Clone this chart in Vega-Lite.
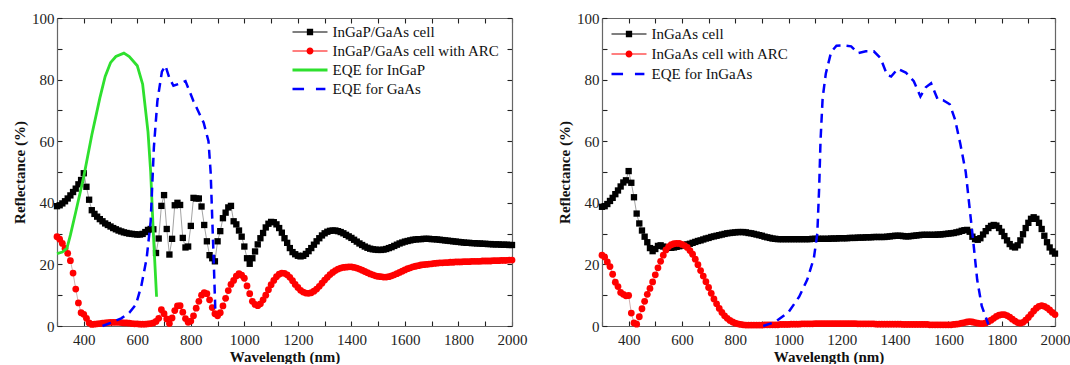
{
  "$schema": "https://vega.github.io/schema/vega-lite/v6.json",
  "padding": {"left": 12, "top": 11, "right": 0, "bottom": 0},
  "spacing": 30,
  "config": {
    "view": {"stroke": null},
    "font": "Times New Roman, Liberation Serif, DejaVu Serif, serif",
    "axis": {
      "grid": false,
      "domainColor": "#666666",
      "domainWidth": 1.2,
      "tickColor": "#222222",
      "tickSize": -5,
      "tickWidth": 1.1,
      "labelFlush": false,
      "labelOverlap": false
    }
  },
  "datasets": {
    "refL": [
      {"x":300,"r":38.9,"a":29.0},{"x":310,"r":39.2,"a":28.2},{"x":320,"r":39.8,"a":26.8},{"x":330,"r":40.5,"a":25.2},{"x":340,"r":41.4,"a":23.6},
      {"x":350,"r":42.4,"a":21.2},{"x":360,"r":43.5,"a":17.2},{"x":370,"r":44.6,"a":12.0},{"x":380,"r":46.0,"a":7.5},{"x":390,"r":47.4,"a":4.3},
      {"x":400,"r":49.6,"a":3.8},{"x":410,"r":45.2,"a":2.5},{"x":420,"r":41.0,"a":1.0},{"x":430,"r":37.6,"a":0.5},{"x":440,"r":36.4,"a":0.6},
      {"x":450,"r":35.5,"a":0.7},{"x":460,"r":34.7,"a":0.8},{"x":470,"r":34.0,"a":0.9},{"x":480,"r":33.3,"a":1.0},{"x":490,"r":32.8,"a":1.1},
      {"x":500,"r":32.3,"a":1.2},{"x":510,"r":31.8,"a":1.2},{"x":520,"r":31.4,"a":1.2},{"x":530,"r":31.0,"a":1.2},{"x":540,"r":30.7,"a":1.1},
      {"x":550,"r":30.4,"a":1.0},{"x":560,"r":30.2,"a":1.0},{"x":570,"r":30.0,"a":0.9},{"x":580,"r":29.9,"a":0.8},{"x":590,"r":29.8,"a":0.7},
      {"x":600,"r":29.7,"a":0.7},{"x":610,"r":29.7,"a":0.6},{"x":620,"r":29.9,"a":0.6},{"x":630,"r":30.5,"a":0.6},{"x":640,"r":31.2,"a":0.7},
      {"x":650,"r":31.5,"a":0.8},{"x":660,"r":31.4,"a":1.0},{"x":670,"r":23.7,"a":1.5},{"x":680,"r":28.4,"a":2.5},{"x":690,"r":39.0,"a":5.3},
      {"x":700,"r":42.5,"a":4.0},{"x":710,"r":31.5,"a":2.3},{"x":720,"r":23.2,"a":0.8},{"x":730,"r":28.3,"a":2.6},{"x":740,"r":39.2,"a":5.0},
      {"x":750,"r":40.0,"a":6.5},{"x":760,"r":39.3,"a":6.6},{"x":770,"r":28.6,"a":4.5},{"x":780,"r":25.5,"a":2.4},{"x":790,"r":25.8,"a":1.2},
      {"x":800,"r":32.5,"a":1.6},{"x":810,"r":41.6,"a":3.3},{"x":820,"r":41.4,"a":5.8},{"x":830,"r":41.4,"a":8.0},{"x":840,"r":38.8,"a":10.0},
      {"x":850,"r":32.8,"a":10.8},{"x":860,"r":27.5,"a":10.5},{"x":870,"r":23.0,"a":8.5},{"x":880,"r":22.0,"a":6.0},{"x":890,"r":21.0,"a":4.0},
      {"x":900,"r":27.5,"a":3.3},{"x":910,"r":30.8,"a":4.3},{"x":920,"r":35.0,"a":6.5},{"x":930,"r":36.8,"a":9.0},{"x":940,"r":38.5,"a":11.5},
      {"x":950,"r":39.0,"a":13.5},{"x":960,"r":34.0,"a":14.8},{"x":970,"r":33.0,"a":16.2},{"x":980,"r":31.0,"a":17.0},{"x":990,"r":29.0,"a":16.5},
      {"x":1000,"r":25.8,"a":15.5},{"x":1010,"r":22.0,"a":13.0},{"x":1020,"r":20.2,"a":10.5},{"x":1030,"r":22.0,"a":8.0},{"x":1040,"r":24.2,"a":7.0},
      {"x":1050,"r":26.5,"a":6.6},{"x":1060,"r":28.5,"a":7.2},{"x":1070,"r":30.2,"a":8.5},{"x":1080,"r":32.0,"a":10.0},{"x":1090,"r":33.2,"a":11.8},
      {"x":1100,"r":33.8,"a":13.4},{"x":1110,"r":33.7,"a":14.8},{"x":1120,"r":33.0,"a":16.0},{"x":1130,"r":31.8,"a":16.8},{"x":1140,"r":30.3,"a":17.2},
      {"x":1150,"r":28.5,"a":17.1},{"x":1160,"r":27.0,"a":16.6},{"x":1170,"r":25.3,"a":15.8},{"x":1180,"r":24.0,"a":14.7},{"x":1190,"r":23.3,"a":13.5},
      {"x":1200,"r":22.8,"a":12.5},{"x":1210,"r":22.6,"a":11.6},{"x":1220,"r":22.8,"a":11.0},{"x":1230,"r":23.4,"a":10.7},{"x":1240,"r":24.3,"a":10.6},
      {"x":1250,"r":25.3,"a":10.8},{"x":1260,"r":26.4,"a":11.3},{"x":1270,"r":27.5,"a":12.0},{"x":1280,"r":28.5,"a":12.9},{"x":1290,"r":29.4,"a":13.9},
      {"x":1300,"r":30.1,"a":14.9},{"x":1310,"r":30.6,"a":15.8},{"x":1320,"r":30.9,"a":16.7},{"x":1330,"r":31.0,"a":17.4},{"x":1340,"r":31.0,"a":18.0},
      {"x":1350,"r":30.8,"a":18.5},{"x":1360,"r":30.5,"a":18.8},{"x":1370,"r":30.1,"a":19.0},{"x":1380,"r":29.6,"a":19.1},{"x":1390,"r":29.1,"a":19.2},
      {"x":1400,"r":28.6,"a":19.2},{"x":1410,"r":28.0,"a":19.0},{"x":1420,"r":27.4,"a":18.8},{"x":1430,"r":26.8,"a":18.5},{"x":1440,"r":26.3,"a":18.1},
      {"x":1450,"r":25.8,"a":17.7},{"x":1460,"r":25.4,"a":17.3},{"x":1470,"r":25.1,"a":16.9},{"x":1480,"r":24.9,"a":16.6},{"x":1490,"r":24.8,"a":16.3},
      {"x":1500,"r":24.7,"a":16.1},{"x":1510,"r":24.7,"a":16.0},{"x":1520,"r":24.8,"a":15.9},{"x":1530,"r":25.0,"a":15.9},{"x":1540,"r":25.3,"a":16.0},
      {"x":1550,"r":25.6,"a":16.3},{"x":1560,"r":26.0,"a":16.6},{"x":1570,"r":26.4,"a":17.0},{"x":1580,"r":26.8,"a":17.4},{"x":1590,"r":27.1,"a":17.8},
      {"x":1600,"r":27.4,"a":18.2},{"x":1610,"r":27.6,"a":18.6},{"x":1620,"r":27.8,"a":18.9},{"x":1630,"r":28.0,"a":19.2},{"x":1640,"r":28.1,"a":19.4},
      {"x":1650,"r":28.2,"a":19.6},{"x":1660,"r":28.2,"a":19.8},{"x":1670,"r":28.3,"a":19.9},{"x":1680,"r":28.3,"a":20.0},{"x":1690,"r":28.3,"a":20.1},
      {"x":1700,"r":28.2,"a":20.2},{"x":1710,"r":28.2,"a":20.3},{"x":1720,"r":28.1,"a":20.4},{"x":1730,"r":28.0,"a":20.5},{"x":1740,"r":27.9,"a":20.5},
      {"x":1750,"r":27.8,"a":20.6},{"x":1760,"r":27.7,"a":20.6},{"x":1770,"r":27.6,"a":20.7},{"x":1780,"r":27.5,"a":20.7},{"x":1790,"r":27.4,"a":20.8},
      {"x":1800,"r":27.3,"a":20.8},{"x":1810,"r":27.2,"a":20.8},{"x":1820,"r":27.1,"a":20.9},{"x":1830,"r":27.0,"a":20.9},{"x":1840,"r":27.0,"a":20.9},
      {"x":1850,"r":26.9,"a":21.0},{"x":1860,"r":26.9,"a":21.0},{"x":1870,"r":26.8,"a":21.0},{"x":1880,"r":26.8,"a":21.0},{"x":1890,"r":26.7,"a":21.1},
      {"x":1900,"r":26.7,"a":21.1},{"x":1910,"r":26.6,"a":21.1},{"x":1920,"r":26.6,"a":21.1},{"x":1930,"r":26.5,"a":21.2},{"x":1940,"r":26.5,"a":21.2},
      {"x":1950,"r":26.5,"a":21.2},{"x":1960,"r":26.4,"a":21.3},{"x":1970,"r":26.4,"a":21.3},{"x":1980,"r":26.4,"a":21.3},{"x":1990,"r":26.3,"a":21.4},
      {"x":2000,"r":26.3,"a":21.4}
    ],
    "eqeInGaP": [
      {"x":300,"y":23.5},{"x":320,"y":24.0},{"x":337,"y":25.2},{"x":350,"y":29.5},{"x":370,"y":37.0},{"x":400,"y":48.5},
      {"x":430,"y":62.0},{"x":460,"y":74.0},{"x":480,"y":81.0},{"x":500,"y":85.5},{"x":520,"y":87.5},{"x":550,"y":88.6},
      {"x":570,"y":87.5},{"x":600,"y":84.5},{"x":620,"y":78.5},{"x":640,"y":63.0},{"x":650,"y":50.0},{"x":660,"y":30.0},{"x":672,"y":9.5}
    ],
    "eqeGaAs": [
      {"x":470,"y":0.0},{"x":500,"y":1.0},{"x":540,"y":2.5},{"x":570,"y":4.3},{"x":595,"y":7.0},{"x":615,"y":13.0},{"x":635,"y":22.0},
      {"x":650,"y":34.0},{"x":662,"y":58.0},{"x":675,"y":73.0},{"x":692,"y":82.6},{"x":705,"y":84.5},{"x":720,"y":80.5},{"x":735,"y":78.0},
      {"x":755,"y":78.6},{"x":780,"y":79.5},{"x":810,"y":73.0},{"x":848,"y":66.0},{"x":866,"y":60.0},{"x":874,"y":50.0},{"x":880,"y":35.0},
      {"x":886,"y":20.0},{"x":892,"y":4.0}
    ],
    "refR": [
      {"x":300,"r":38.7,"a":23.0},{"x":310,"r":38.9,"a":22.4},{"x":320,"r":39.6,"a":20.8},{"x":330,"r":40.6,"a":19.3},{"x":340,"r":41.6,"a":16.8},
      {"x":350,"r":42.8,"a":14.2},{"x":360,"r":44.0,"a":12.8},{"x":370,"r":45.3,"a":10.9},{"x":380,"r":46.6,"a":10.3},{"x":390,"r":47.3,"a":9.8},
      {"x":400,"r":50.3,"a":9.9},{"x":410,"r":46.5,"a":4.2},{"x":420,"r":41.8,"a":1.0},{"x":430,"r":36.5,"a":0.6},{"x":440,"r":33.3,"a":3.0},
      {"x":450,"r":31.0,"a":5.6},{"x":460,"r":29.0,"a":8.0},{"x":470,"r":27.2,"a":10.3},{"x":480,"r":25.3,"a":12.2},{"x":490,"r":24.3,"a":14.3},
      {"x":500,"r":25.0,"a":16.6},{"x":510,"r":26.0,"a":18.9},{"x":520,"r":26.2,"a":21.0},{"x":530,"r":25.8,"a":23.0},{"x":540,"r":25.5,"a":24.7},
      {"x":550,"r":25.4,"a":25.8},{"x":560,"r":25.4,"a":26.4},{"x":570,"r":25.5,"a":26.7},{"x":580,"r":25.7,"a":26.8},{"x":590,"r":25.9,"a":26.8},
      {"x":600,"r":26.1,"a":26.5},{"x":610,"r":26.3,"a":26.1},{"x":620,"r":26.5,"a":25.5},{"x":630,"r":26.7,"a":24.5},{"x":640,"r":27.0,"a":23.3},
      {"x":650,"r":27.3,"a":21.7},{"x":660,"r":27.6,"a":19.9},{"x":670,"r":27.8,"a":18.0},{"x":680,"r":28.1,"a":16.2},{"x":690,"r":28.4,"a":14.4},
      {"x":700,"r":28.6,"a":12.5},{"x":710,"r":28.9,"a":10.6},{"x":720,"r":29.1,"a":8.8},{"x":730,"r":29.3,"a":7.2},{"x":740,"r":29.5,"a":5.7},
      {"x":750,"r":29.7,"a":4.4},{"x":760,"r":29.9,"a":3.3},{"x":770,"r":30.1,"a":2.5},{"x":780,"r":30.2,"a":1.8},{"x":790,"r":30.3,"a":1.3},
      {"x":800,"r":30.4,"a":0.9},{"x":810,"r":30.5,"a":0.7},{"x":820,"r":30.5,"a":0.5},{"x":830,"r":30.5,"a":0.4},{"x":840,"r":30.4,"a":0.3},
      {"x":850,"r":30.2,"a":0.3},{"x":860,"r":30.1,"a":0.3},{"x":870,"r":29.9,"a":0.3},{"x":880,"r":29.7,"a":0.3},{"x":890,"r":29.5,"a":0.3},
      {"x":900,"r":29.3,"a":0.3},{"x":910,"r":29.0,"a":0.4},{"x":920,"r":28.8,"a":0.4},{"x":930,"r":28.6,"a":0.4},{"x":940,"r":28.4,"a":0.4},
      {"x":950,"r":28.3,"a":0.4},{"x":960,"r":28.2,"a":0.4},{"x":970,"r":28.2,"a":0.5},{"x":980,"r":28.2,"a":0.5},{"x":990,"r":28.2,"a":0.5},
      {"x":1000,"r":28.2,"a":0.5},{"x":1010,"r":28.2,"a":0.6},{"x":1020,"r":28.2,"a":0.6},{"x":1030,"r":28.2,"a":0.6},{"x":1040,"r":28.2,"a":0.6},
      {"x":1050,"r":28.2,"a":0.7},{"x":1060,"r":28.2,"a":0.7},{"x":1070,"r":28.2,"a":0.7},{"x":1080,"r":28.2,"a":0.7},{"x":1090,"r":28.3,"a":0.7},
      {"x":1100,"r":28.3,"a":0.8},{"x":1110,"r":28.3,"a":0.8},{"x":1120,"r":28.3,"a":0.8},{"x":1130,"r":28.3,"a":0.8},{"x":1140,"r":28.3,"a":0.8},
      {"x":1150,"r":28.3,"a":0.8},{"x":1160,"r":28.4,"a":0.8},{"x":1170,"r":28.4,"a":0.8},{"x":1180,"r":28.4,"a":0.8},{"x":1190,"r":28.5,"a":0.8},
      {"x":1200,"r":28.5,"a":0.8},{"x":1210,"r":28.5,"a":0.8},{"x":1220,"r":28.5,"a":0.8},{"x":1230,"r":28.6,"a":0.8},{"x":1240,"r":28.6,"a":0.8},
      {"x":1250,"r":28.6,"a":0.8},{"x":1260,"r":28.7,"a":0.7},{"x":1270,"r":28.7,"a":0.7},{"x":1280,"r":28.7,"a":0.7},{"x":1290,"r":28.8,"a":0.7},
      {"x":1300,"r":28.8,"a":0.7},{"x":1310,"r":28.8,"a":0.7},{"x":1320,"r":28.9,"a":0.7},{"x":1330,"r":28.9,"a":0.6},{"x":1340,"r":28.9,"a":0.6},
      {"x":1350,"r":28.9,"a":0.6},{"x":1360,"r":28.9,"a":0.6},{"x":1370,"r":29.0,"a":0.6},{"x":1380,"r":29.1,"a":0.6},{"x":1390,"r":29.2,"a":0.6},
      {"x":1400,"r":29.3,"a":0.6},{"x":1410,"r":29.3,"a":0.6},{"x":1420,"r":29.3,"a":0.6},{"x":1430,"r":29.2,"a":0.5},{"x":1440,"r":29.1,"a":0.5},
      {"x":1450,"r":29.1,"a":0.5},{"x":1460,"r":29.2,"a":0.5},{"x":1470,"r":29.3,"a":0.5},{"x":1480,"r":29.4,"a":0.5},{"x":1490,"r":29.5,"a":0.5},
      {"x":1500,"r":29.6,"a":0.5},{"x":1510,"r":29.6,"a":0.5},{"x":1520,"r":29.6,"a":0.5},{"x":1530,"r":29.6,"a":0.4},{"x":1540,"r":29.6,"a":0.4},
      {"x":1550,"r":29.6,"a":0.4},{"x":1560,"r":29.7,"a":0.4},{"x":1570,"r":29.7,"a":0.4},{"x":1580,"r":29.8,"a":0.4},{"x":1590,"r":29.9,"a":0.4},
      {"x":1600,"r":30.0,"a":0.4},{"x":1610,"r":30.1,"a":0.4},{"x":1620,"r":30.2,"a":0.5},{"x":1630,"r":30.4,"a":0.6},{"x":1640,"r":30.6,"a":0.7},
      {"x":1650,"r":30.9,"a":0.9},{"x":1660,"r":31.1,"a":1.1},{"x":1670,"r":31.2,"a":1.3},{"x":1680,"r":30.6,"a":1.4},{"x":1690,"r":29.0,"a":1.3},
      {"x":1700,"r":28.2,"a":1.1},{"x":1710,"r":28.0,"a":0.9},{"x":1720,"r":28.5,"a":0.8},{"x":1730,"r":29.7,"a":0.8},{"x":1740,"r":30.8,"a":1.0},
      {"x":1750,"r":31.8,"a":1.4},{"x":1760,"r":32.5,"a":1.9},{"x":1770,"r":32.8,"a":2.5},{"x":1780,"r":32.6,"a":3.1},{"x":1790,"r":31.8,"a":3.5},
      {"x":1800,"r":30.6,"a":3.7},{"x":1810,"r":29.2,"a":3.7},{"x":1820,"r":27.8,"a":3.4},{"x":1830,"r":26.6,"a":2.9},{"x":1840,"r":25.8,"a":2.2},
      {"x":1850,"r":25.5,"a":1.6},{"x":1860,"r":26.2,"a":1.1},{"x":1870,"r":27.8,"a":0.9},{"x":1880,"r":29.8,"a":1.2},{"x":1890,"r":31.8,"a":1.9},
      {"x":1900,"r":33.5,"a":2.8},{"x":1910,"r":34.8,"a":3.8},{"x":1920,"r":35.3,"a":4.9},{"x":1930,"r":34.8,"a":5.8},{"x":1940,"r":33.5,"a":6.4},
      {"x":1950,"r":31.5,"a":6.6},{"x":1960,"r":29.3,"a":6.4},{"x":1970,"r":27.2,"a":5.9},{"x":1980,"r":25.5,"a":5.2},{"x":1990,"r":24.2,"a":4.4},
      {"x":2000,"r":23.5,"a":3.7}
    ],
    "eqeInGaAs": [
      {"x":905,"y":0.0},{"x":950,"y":1.3},{"x":1000,"y":4.5},{"x":1040,"y":9.5},{"x":1070,"y":15.0},{"x":1095,"y":22.0},{"x":1108,"y":30.0},
      {"x":1115,"y":45.0},{"x":1120,"y":60.0},{"x":1128,"y":74.0},{"x":1140,"y":82.0},{"x":1160,"y":89.0},{"x":1180,"y":91.0},{"x":1210,"y":91.1},
      {"x":1235,"y":90.8},{"x":1260,"y":88.6},{"x":1290,"y":89.2},{"x":1320,"y":89.2},{"x":1345,"y":87.0},{"x":1370,"y":81.5},{"x":1385,"y":81.0},
      {"x":1410,"y":83.5},{"x":1440,"y":82.3},{"x":1470,"y":79.5},{"x":1495,"y":74.5},{"x":1515,"y":77.5},{"x":1535,"y":78.8},{"x":1560,"y":73.5},
      {"x":1580,"y":73.3},{"x":1605,"y":72.0},{"x":1625,"y":67.0},{"x":1645,"y":59.0},{"x":1665,"y":50.0},{"x":1680,"y":38.0},{"x":1695,"y":26.0},
      {"x":1708,"y":15.0},{"x":1725,"y":6.5},{"x":1750,"y":0.5}
    ],
    "legL": [{"s":"InGaP/GaAs cell"},{"s":"InGaP/GaAs cell with ARC"},{"s":"EQE for InGaP"},{"s":"EQE for GaAs"}],
    "legR": [{"s":"InGaAs cell"},{"s":"InGaAs cell with ARC"},{"s":"EQE for InGaAs"}]
  },
  "resolve": {
    "scale": {"color": "independent", "shape": "independent"},
    "legend": {"color": "independent", "shape": "independent"}
  },
  "hconcat": [
    {
      "width": 455,
      "height": 308,
      "resolve": {"axis": {"x": "independent", "y": "independent"}},
      "layer": [
        {
          "data": {"name": "refL"},
          "mark": {"type": "line", "color": "#8a8a8a", "strokeWidth": 0.8},
          "encoding": {
            "x": {"field": "x", "type": "quantitative", "scale": {"domain": [300, 2000], "nice": false, "zero": false},
                  "axis": {"orient": "bottom", "title": "Wavelength (nm)", "values": [300,400,500,600,700,800,900,1000,1100,1200,1300,1400,1500,1600,1700,1800,1900,2000],
                           "format": "d", "labelExpr": "datum.value % 200 == 0 ? datum.label : ''", "labelPadding": 11, "titlePadding": 2,
                           "labelFont": "Times New Roman, Liberation Serif, serif", "labelFontSize": 15, "labelColor": "#222222",
                           "titleFont": "Times New Roman, Liberation Serif, serif", "titleFontSize": 15, "titleFontWeight": "bold", "titleColor": "#111111"}},
            "y": {"field": "r", "type": "quantitative", "scale": {"domain": [0, 100], "nice": false},
                  "axis": {"orient": "left", "title": "Reflectance (%)", "values": [0,10,20,30,40,50,60,70,80,90,100],
                           "labelExpr": "datum.value % 20 == 0 ? datum.label : ''", "labelPadding": 8, "titlePadding": 4,
                           "labelFont": "Times New Roman, Liberation Serif, serif", "labelFontSize": 15, "labelColor": "#222222",
                           "titleFont": "Times New Roman, Liberation Serif, serif", "titleFontSize": 15, "titleFontWeight": "bold", "titleColor": "#111111"}}
          }
        },
        {
          "data": {"name": "refL"},
          "mark": {"type": "point", "shape": "square", "filled": true, "size": 40, "color": "#000000", "opacity": 1},
          "encoding": {
            "x": {"field": "x", "type": "quantitative", "axis": null},
            "y": {"field": "r", "type": "quantitative", "axis": null}
          }
        },
        {
          "data": {"name": "refL"},
          "mark": {"type": "line", "color": "#c49a9a", "strokeWidth": 0.8},
          "encoding": {
            "x": {"field": "x", "type": "quantitative",
                  "axis": {"orient": "top", "title": null, "labels": false, "values": [300,400,500,600,700,800,900,1000,1100,1200,1300,1400,1500,1600,1700,1800,1900,2000]}},
            "y": {"field": "a", "type": "quantitative",
                  "axis": {"orient": "right", "title": null, "labels": false, "values": [0,10,20,30,40,50,60,70,80,90,100]}}
          }
        },
        {
          "data": {"name": "refL"},
          "mark": {"type": "point", "shape": "circle", "filled": true, "size": 46, "color": "#ff0000", "opacity": 1},
          "encoding": {
            "x": {"field": "x", "type": "quantitative", "axis": null},
            "y": {"field": "a", "type": "quantitative", "axis": null}
          }
        },
        {
          "data": {"name": "eqeInGaP"},
          "mark": {"type": "line", "color": "#2ee02e", "strokeWidth": 2.8},
          "encoding": {
            "x": {"field": "x", "type": "quantitative", "axis": null},
            "y": {"field": "y", "type": "quantitative", "axis": null}
          }
        },
        {
          "data": {"name": "eqeGaAs"},
          "mark": {"type": "line", "color": "#0000ff", "strokeWidth": 2.5, "strokeDash": [9, 6]},
          "encoding": {
            "x": {"field": "x", "type": "quantitative", "axis": null},
            "y": {"field": "y", "type": "quantitative", "axis": null}
          }
        },
        {
          "data": {"name": "legL"},
          "mark": {"type": "point", "filled": true, "opacity": 0},
          "encoding": {
            "color": {"field": "s", "type": "nominal",
              "scale": {"domain": ["InGaP/GaAs cell","InGaP/GaAs cell with ARC","EQE for InGaP","EQE for GaAs"], "range": ["#000000","#ff0000","#2ee02e","#0000ff"]},
              "legend": {"title": null, "orient": "none", "legendX": 245.5, "legendY": 6.5, "symbolSize": 196, "symbolOpacity": 1, "symbolStrokeWidth": 0, "labelOffset": 15, "rowPadding": 3, "padding": 0,
                         "labelFont": "Times New Roman, Liberation Serif, serif", "labelFontSize": 15, "labelColor": "#111111", "labelLimit": 400}},
            "shape": {"field": "s", "type": "nominal",
              "scale": {"domain": ["InGaP/GaAs cell","InGaP/GaAs cell with ARC","EQE for InGaP","EQE for GaAs"],
                        "range": ["M-2.5,-0.07H2.5V0.07H-2.5Z M-0.45,-0.45H0.45V0.45H-0.45Z",
                                  "M-2.5,-0.07H2.5V0.07H-2.5Z M0.5,0A0.5,0.5 0 1 1 -0.5,0A0.5,0.5 0 1 1 0.5,0Z",
                                  "M-2.5,-0.2H2.5V0.2H-2.5Z",
                                  "M-2.5,-0.18H-0.85V0.18H-2.5Z M0.85,-0.18H2.2V0.18H0.85Z"]},
              "legend": {"title": null, "orient": "none", "legendX": 245.5, "legendY": 6.5, "symbolSize": 196, "symbolOpacity": 1, "symbolStrokeWidth": 0, "labelOffset": 15, "rowPadding": 3, "padding": 0,
                         "labelFont": "Times New Roman, Liberation Serif, serif", "labelFontSize": 15, "labelColor": "#111111", "labelLimit": 400}}
          }
        }
      ]
    },
    {
      "width": 453,
      "height": 308,
      "resolve": {"axis": {"x": "independent", "y": "independent"}},
      "layer": [
        {
          "data": {"name": "refR"},
          "mark": {"type": "line", "color": "#8a8a8a", "strokeWidth": 0.8},
          "encoding": {
            "x": {"field": "x", "type": "quantitative", "scale": {"domain": [300, 2000], "nice": false, "zero": false},
                  "axis": {"orient": "bottom", "title": "Wavelength (nm)", "values": [300,400,500,600,700,800,900,1000,1100,1200,1300,1400,1500,1600,1700,1800,1900,2000],
                           "format": "d", "labelExpr": "datum.value % 200 == 0 ? datum.label : ''", "labelPadding": 11, "titlePadding": 2,
                           "labelFont": "Times New Roman, Liberation Serif, serif", "labelFontSize": 15, "labelColor": "#222222",
                           "titleFont": "Times New Roman, Liberation Serif, serif", "titleFontSize": 15, "titleFontWeight": "bold", "titleColor": "#111111"}},
            "y": {"field": "r", "type": "quantitative", "scale": {"domain": [0, 100], "nice": false},
                  "axis": {"orient": "left", "title": "Reflectance (%)", "values": [0,10,20,30,40,50,60,70,80,90,100],
                           "labelExpr": "datum.value % 20 == 0 ? datum.label : ''", "labelPadding": 8, "titlePadding": 4,
                           "labelFont": "Times New Roman, Liberation Serif, serif", "labelFontSize": 15, "labelColor": "#222222",
                           "titleFont": "Times New Roman, Liberation Serif, serif", "titleFontSize": 15, "titleFontWeight": "bold", "titleColor": "#111111"}}
          }
        },
        {
          "data": {"name": "refR"},
          "mark": {"type": "point", "shape": "square", "filled": true, "size": 40, "color": "#000000", "opacity": 1},
          "encoding": {
            "x": {"field": "x", "type": "quantitative", "axis": null},
            "y": {"field": "r", "type": "quantitative", "axis": null}
          }
        },
        {
          "data": {"name": "refR"},
          "mark": {"type": "line", "color": "#c49a9a", "strokeWidth": 0.8},
          "encoding": {
            "x": {"field": "x", "type": "quantitative",
                  "axis": {"orient": "top", "title": null, "labels": false, "values": [300,400,500,600,700,800,900,1000,1100,1200,1300,1400,1500,1600,1700,1800,1900,2000]}},
            "y": {"field": "a", "type": "quantitative",
                  "axis": {"orient": "right", "title": null, "labels": false, "values": [0,10,20,30,40,50,60,70,80,90,100]}}
          }
        },
        {
          "data": {"name": "refR"},
          "mark": {"type": "point", "shape": "circle", "filled": true, "size": 46, "color": "#ff0000", "opacity": 1},
          "encoding": {
            "x": {"field": "x", "type": "quantitative", "axis": null},
            "y": {"field": "a", "type": "quantitative", "axis": null}
          }
        },
        {
          "data": {"name": "eqeInGaAs"},
          "mark": {"type": "line", "color": "#0000ff", "strokeWidth": 2.5, "strokeDash": [9, 6]},
          "encoding": {
            "x": {"field": "x", "type": "quantitative", "axis": null},
            "y": {"field": "y", "type": "quantitative", "axis": null}
          }
        },
        {
          "data": {"name": "legR"},
          "mark": {"type": "point", "filled": true, "opacity": 0},
          "encoding": {
            "color": {"field": "s", "type": "nominal",
              "scale": {"domain": ["InGaAs cell","InGaAs cell with ARC","EQE for InGaAs"], "range": ["#000000","#ff0000","#0000ff"]},
              "legend": {"title": null, "orient": "none", "legendX": 19.5, "legendY": 8.5, "symbolSize": 196, "symbolOpacity": 1, "symbolStrokeWidth": 0, "labelOffset": 15, "rowPadding": 4, "padding": 0,
                         "labelFont": "Times New Roman, Liberation Serif, serif", "labelFontSize": 15, "labelColor": "#111111", "labelLimit": 400}},
            "shape": {"field": "s", "type": "nominal",
              "scale": {"domain": ["InGaAs cell","InGaAs cell with ARC","EQE for InGaAs"],
                        "range": ["M-2.5,-0.07H2.5V0.07H-2.5Z M-0.45,-0.45H0.45V0.45H-0.45Z",
                                  "M-2.5,-0.07H2.5V0.07H-2.5Z M0.5,0A0.5,0.5 0 1 1 -0.5,0A0.5,0.5 0 1 1 0.5,0Z",
                                  "M-2.5,-0.18H-0.85V0.18H-2.5Z M0.85,-0.18H2.2V0.18H0.85Z"]},
              "legend": {"title": null, "orient": "none", "legendX": 19.5, "legendY": 8.5, "symbolSize": 196, "symbolOpacity": 1, "symbolStrokeWidth": 0, "labelOffset": 15, "rowPadding": 4, "padding": 0,
                         "labelFont": "Times New Roman, Liberation Serif, serif", "labelFontSize": 15, "labelColor": "#111111", "labelLimit": 400}}
          }
        }
      ]
    }
  ]
}
